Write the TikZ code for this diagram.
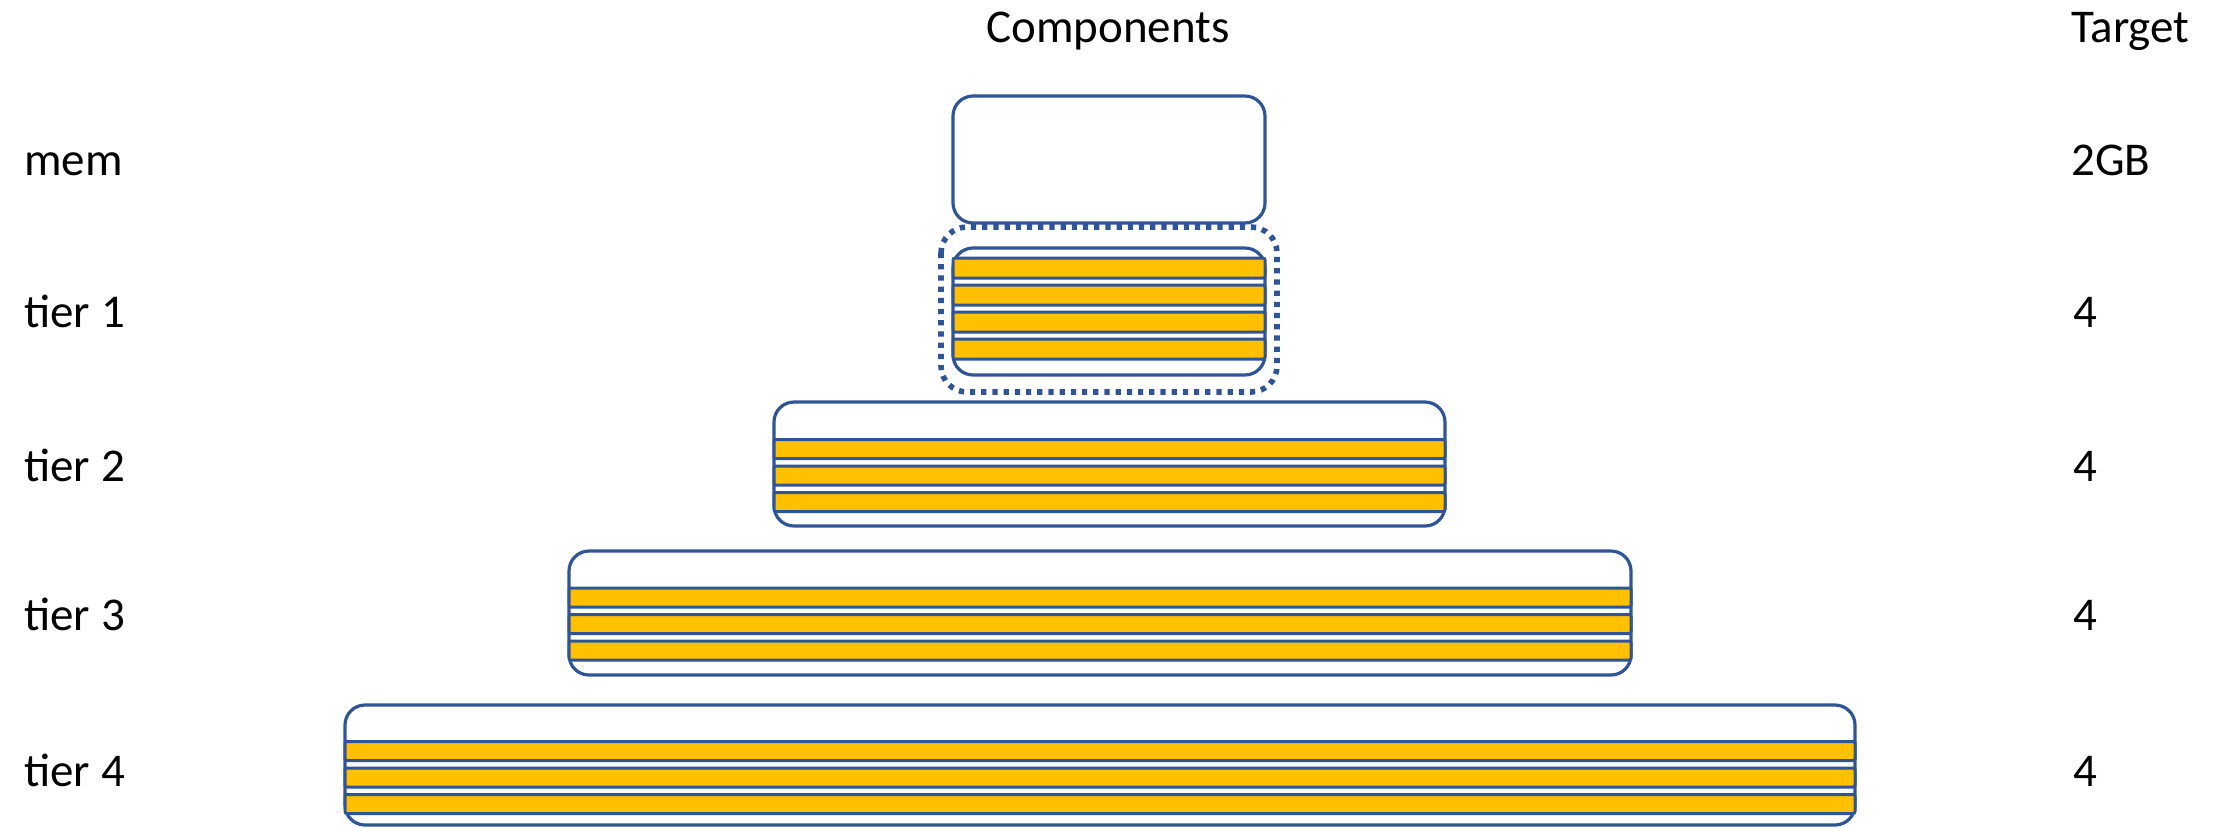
\documentclass[tikz,border=0pt]{standalone}
\usepackage{fontspec}
\setmainfont{Carlito}
\definecolor{bordblue}{HTML}{2F5597}
\definecolor{stripey}{HTML}{FFC000}
\begin{document}
\begin{tikzpicture}[x=0.5pt,y=-0.5pt,
  lbl/.style={font=\fontsize{23.5}{28}\selectfont, inner sep=0pt, anchor=base west},
  ttl/.style={font=\fontsize{23.5}{28}\selectfont, inner sep=0pt, anchor=base},
  tierbox/.style={draw=bordblue, line width=1.6pt, rounded corners=10pt, fill=white},
  stripe/.style={draw=bordblue, line width=1.5pt, fill=stripey, rounded corners=1pt},
  dotbox/.style={draw=bordblue, line width=2.8pt, dash pattern=on 2.6pt off 3pt, rounded corners=13pt}]
\useasboundingbox (0,0) rectangle (2227,827);
% titles
\node[ttl] (comp) at (1108,42) {Components};
\node[lbl] (targ) at (2071,42) {Target};
% left labels
\node[lbl] (lmem) at (24,175) {mem};
\node[lbl] (lt1) at (24,327) {tier 1};
\node[lbl] (lt2) at (24,481) {tier 2};
\node[lbl] (lt3) at (24,630) {tier 3};
\node[lbl] (lt4) at (24,786) {tier 4};
% right labels
\node[lbl] (rmem) at (2071,175) {2GB};
\node[lbl] (rt1) at (2073,327) {4};
\node[lbl] (rt2) at (2073,481) {4};
\node[lbl] (rt3) at (2073,630) {4};
\node[lbl] (rt4) at (2073,786) {4};
% mem box
\draw[tierbox] (953,96) rectangle (1265,223);
% tier 1
\draw[dotbox] (941,227) rectangle (1277,392);
\draw[tierbox] (953,248) rectangle (1265,375);
\foreach \y in {258,285,312,339} \draw[stripe] (953,\y) rectangle (1265,\y+20);
% tier 2
\draw[tierbox] (774,402) rectangle (1445,526);
\foreach \y in {439.5,466,492.5} \draw[stripe] (774,\y) rectangle (1445,\y+19);
% tier 3
\draw[tierbox] (569,551) rectangle (1631,675);
\foreach \y in {588,614.5,641} \draw[stripe] (569,\y) rectangle (1631,\y+19);
% tier 4
\draw[tierbox] (345,705) rectangle (1855,825);
\foreach \y in {741.5,768,794.5} \draw[stripe] (345,\y) rectangle (1855,\y+19);
\end{tikzpicture}
\end{document}
